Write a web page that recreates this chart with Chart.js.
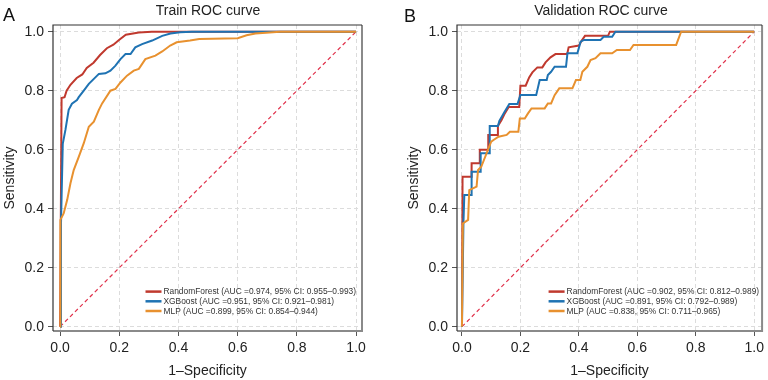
<!DOCTYPE html>
<html>
<head>
<meta charset="utf-8">
<script src="https://cdn.jsdelivr.net/npm/chart.js@4.4.0/dist/chart.umd.min.js"></script>
<style>
  body { margin: 0; background: #fff; font-family: "Liberation Sans", Arial, sans-serif; }
  #wrap { position: relative; width: 768px; height: 380px; }
  .panel { position: absolute; top: 0; width: 384px; height: 380px; }
  .letter { position: absolute; font-size: 18px; color: #111; }
  .title { position: absolute; top: 2px; font-size: 14px; color: #222; white-space: nowrap; transform: translateX(-50%); }
</style>
</head>
<body>
<div id="wrap">
  <div class="panel" style="left:0"><canvas id="trainChart"></canvas></div>
  <div class="panel" style="left:384px"><canvas id="valChart"></canvas></div>
  <div class="letter" style="left:3px;top:5px">A</div>
  <div class="letter" style="left:404px;top:6px">B</div>
  <div class="title" style="left:208px">Train ROC curve</div>
  <div class="title" style="left:601px">Validation ROC curve</div>
</div>
<script>
// tick values shared by both panels
const tickValues = [0, 0.2, 0.4, 0.6, 0.8, 1.0];
const diagX = [0, 1];
const diagY = [0, 1];

// train ROC curves
const trainRfX = [0, 0.005, 0.015, 0.022, 0.035, 0.056, 0.075, 0.09, 0.113, 0.135, 0.158, 0.18, 0.2, 0.222, 0.266, 0.31, 1];
const trainRfY = [0, 0.775, 0.778, 0.80, 0.82, 0.843, 0.855, 0.877, 0.895, 0.921, 0.944, 0.956, 0.973, 0.99, 0.997, 1.0, 1.0];

const trainXgbX = [0, 0.003, 0.009, 0.018, 0.029, 0.04, 0.057, 0.063, 0.08, 0.097, 0.114, 0.131, 0.153, 0.17, 0.187, 0.204, 0.221, 0.238, 0.254, 0.277, 0.311, 0.345, 0.373, 0.406, 0.445, 1];
const trainXgbY = [0, 0.35, 0.62, 0.667, 0.735, 0.756, 0.768, 0.778, 0.80, 0.823, 0.84, 0.857, 0.859, 0.868, 0.885, 0.907, 0.924, 0.924, 0.947, 0.958, 0.97, 0.986, 0.994, 0.998, 1.0, 1.0];

const trainMlpX = [0, 0.001, 0.012, 0.024, 0.035, 0.046, 0.063, 0.08, 0.097, 0.114, 0.131, 0.142, 0.17, 0.187, 0.204, 0.226, 0.249, 0.266, 0.288, 0.322, 0.345, 0.372, 0.394, 0.439, 0.47, 0.6, 0.63, 0.66, 0.743, 1];
const trainMlpY = [0, 0.362, 0.384, 0.43, 0.486, 0.531, 0.576, 0.622, 0.678, 0.695, 0.735, 0.757, 0.80, 0.806, 0.828, 0.851, 0.868, 0.874, 0.907, 0.919, 0.933, 0.953, 0.964, 0.97, 0.975, 0.978, 0.988, 0.994, 1.0, 1.0];

// validation ROC curves
const valRfX = [0, 0.002, 0.033, 0.033, 0.061, 0.061, 0.09, 0.09, 0.123, 0.123, 0.135, 0.145, 0.16, 0.196, 0.2, 0.218, 0.23, 0.241, 0.258, 0.275, 0.286, 0.303, 0.32, 0.36, 0.365, 0.40, 0.41, 0.421, 0.5, 0.506, 1];
const valRfY = [0, 0.508, 0.508, 0.554, 0.554, 0.60, 0.60, 0.65, 0.65, 0.68, 0.70, 0.72, 0.745, 0.745, 0.817, 0.817, 0.845, 0.862, 0.879, 0.879, 0.896, 0.913, 0.924, 0.924, 0.947, 0.953, 0.97, 0.986, 0.986, 1.0, 1.0];

const valXgbX = [0, 0.005, 0.008, 0.033, 0.033, 0.064, 0.064, 0.095, 0.095, 0.123, 0.128, 0.145, 0.162, 0.19, 0.2, 0.254, 0.266, 0.29, 0.294, 0.305, 0.317, 0.356, 0.361, 0.395, 0.406, 0.418, 0.474, 0.485, 0.514, 0.525, 1];
const valXgbY = [0, 0.35, 0.446, 0.446, 0.525, 0.525, 0.588, 0.588, 0.68, 0.68, 0.698, 0.727, 0.755, 0.755, 0.785, 0.785, 0.836, 0.836, 0.853, 0.864, 0.881, 0.881, 0.927, 0.927, 0.966, 0.972, 0.972, 0.983, 0.983, 1.0, 1.0];

const valMlpX = [0, 0.003, 0.021, 0.025, 0.05, 0.055, 0.066, 0.1, 0.108, 0.125, 0.153, 0.164, 0.193, 0.198, 0.215, 0.226, 0.238, 0.283, 0.294, 0.305, 0.317, 0.333, 0.378, 0.39, 0.405, 0.412, 0.429, 0.44, 0.457, 0.474, 0.514, 0.53, 0.575, 0.587, 0.733, 0.75, 1];
const valMlpY = [0, 0.35, 0.362, 0.463, 0.475, 0.531, 0.542, 0.627, 0.633, 0.644, 0.65, 0.661, 0.661, 0.706, 0.706, 0.723, 0.74, 0.74, 0.757, 0.757, 0.785, 0.808, 0.808, 0.836, 0.836, 0.864, 0.881, 0.904, 0.91, 0.927, 0.927, 0.938, 0.938, 0.955, 0.955, 1.0, 1.0];

const trainLabels = [
  'RandomForest (AUC =0.974, 95% CI: 0.955\u20130.993)',
  'XGBoost (AUC =0.951, 95% CI: 0.921\u20130.981)',
  'MLP (AUC =0.899, 95% CI: 0.854\u20130.944)'
];
const valLabels = [
  'RandomForest (AUC =0.902, 95% CI: 0.812\u20130.989)',
  'XGBoost (AUC =0.891, 95% CI: 0.792\u20130.989)',
  'MLP (AUC =0.838, 95% CI: 0.711\u20130.965)'
];

const colors = ['#c0392e', '#1f73b3', '#e8912f'];
const FONT = '"Liberation Sans", Arial, sans-serif';

function toPoints(xs, ys) {
  return xs.map((x, i) => ({ x: x, y: ys[i] }));
}

// legend drawn inside the plot, lower right
const innerLegend = {
  id: 'innerLegend',
  afterDraw(chart, args, opts) {
    const ctx = chart.ctx;
    const area = chart.chartArea;
    const items = chart.data.datasets.filter(d => d.inLegend);
    ctx.save();
    ctx.font = '8.4px ' + FONT;
    ctx.textBaseline = 'middle';
    const textW = Math.max(...items.map(d => ctx.measureText(d.label).width));
    const x0 = area.right - opts.right - textW - 19;
    items.forEach((d, i) => {
      const y = area.bottom - opts.bottom - (items.length - 1 - i) * 9.7;
      ctx.strokeStyle = d.borderColor;
      ctx.lineWidth = 2.5;
      ctx.beginPath();
      ctx.moveTo(x0, y);
      ctx.lineTo(x0 + 16, y);
      ctx.stroke();
      ctx.fillStyle = '#333';
      ctx.fillText(d.label, x0 + 18, y + 0.5);
    });
    ctx.restore();
  }
};

// plot frame
const frame = {
  id: 'frame',
  afterDraw(chart) {
    const ctx = chart.ctx;
    const a = chart.chartArea;
    ctx.save();
    ctx.strokeStyle = '#8a8a8a';
    ctx.lineWidth = 2;
    ctx.beginPath();
    ctx.moveTo(a.right, a.top);
    ctx.lineTo(a.right, a.bottom);
    ctx.lineTo(a.left, a.bottom);
    ctx.stroke();
    ctx.strokeStyle = '#333';
    ctx.lineWidth = 1.2;
    ctx.beginPath();
    ctx.moveTo(a.left, a.bottom);
    ctx.lineTo(a.left, a.top);
    ctx.lineTo(a.right, a.top);
    ctx.stroke();
    ctx.restore();
  }
};

function makeChart(canvasId, curves, labels, xRange, yRange, pad, legendRight) {
  const canvas = document.getElementById(canvasId);
  canvas.width = 384;
  canvas.height = 380;
  const datasets = curves.map((c, i) => ({
    label: labels[i],
    data: toPoints(c[0], c[1]),
    borderColor: colors[i],
    backgroundColor: colors[i],
    borderWidth: 2,
    showLine: true,
    pointRadius: 0,
    fill: false,
    inLegend: true,
    order: 3 - i
  }));
  datasets.push({
    label: 'ref',
    data: toPoints(diagX, diagY),
    borderColor: '#e0314b',
    borderWidth: 1.2,
    borderDash: [4, 3],
    showLine: true,
    pointRadius: 0,
    fill: false,
    order: 5
  });

  const axis = (min, max, title, fitKey, fitVal, titlePad) => ({
    type: 'linear',
    min: min,
    max: max,
    afterBuildTicks: s => { s.ticks = tickValues.map(v => ({ value: v })); },
    afterFit: s => { s[fitKey] = fitVal; },
    grid: { color: '#dcdcdc', lineWidth: 1, tickLength: 5, tickColor: '#555', tickBorderDash: [] },
    border: { display: false, dash: [4, 3] },
    ticks: {
      color: '#222',
      font: { family: FONT, size: 14 },
      padding: 4,
      callback: v => v.toFixed(1)
    },
    title: { display: true, text: title, color: '#222', font: { family: FONT, size: 14 }, padding: titlePad }
  });

  return new Chart(canvas.getContext('2d'), {
    type: 'scatter',
    data: { datasets: datasets },
    options: {
      responsive: false,
      animation: false,
      layout: { padding: pad },
      plugins: {
        legend: { display: false },
        tooltip: { enabled: false },
        innerLegend: { right: legendRight, bottom: 20 }
      },
      scales: {
        x: axis(xRange[0], xRange[1], '1\u2013Specificity', 'height', 49, { top: 0, bottom: 0 }),
        y: axis(yRange[0], yRange[1], 'Sensitivity', 'width', 53, { top: 2, bottom: 0 })
      }
    },
    plugins: [innerLegend, frame]
  });
}

makeChart('trainChart',
  [[trainRfX, trainRfY], [trainXgbX, trainXgbY], [trainMlpX, trainMlpY]],
  trainLabels, [-0.024, 1.02], [-0.0146, 1.0227],
  { top: 25, right: 22, left: 0, bottom: 0 }, 5);

makeChart('valChart',
  [[valRfX, valRfY], [valXgbX, valXgbY], [valMlpX, valMlpY]],
  valLabels, [-0.017, 1.027], [-0.0146, 1.0227],
  { top: 25, right: 3, left: 20, bottom: 0 }, 2);
</script>
</body>
</html>
